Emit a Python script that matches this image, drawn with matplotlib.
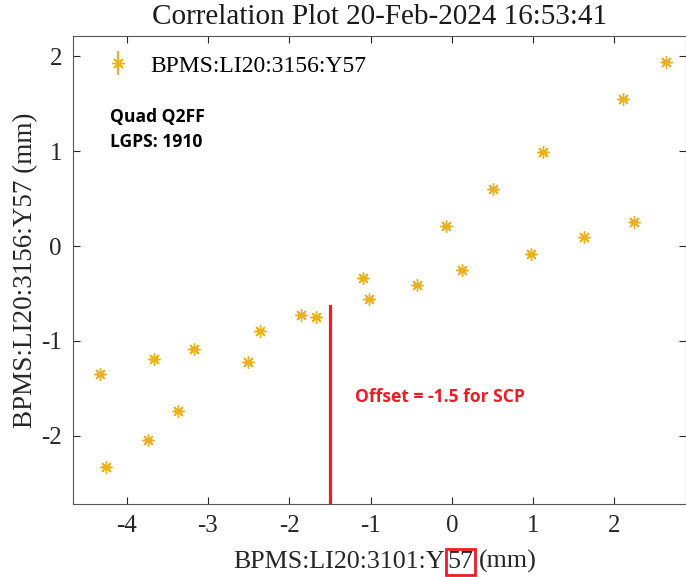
import numpy as np
import matplotlib.pyplot as plt

# BPM readings (mm)
x_bpm = [-4.33, -4.25, -3.66, -3.74, -3.37, -3.17, -2.51, -2.36, -1.85, -1.67,
         -1.09, -1.02, -0.43, -0.07, 0.13, 0.51, 0.97, 1.12, 1.63, 2.11, 2.24, 2.64]
y_bpm = [-1.35, -2.33, -1.19, -2.04, -1.74, -1.08, -1.22, -0.89, -0.73, -0.75,
         -0.34, -0.56, -0.41, 0.21, -0.25, 0.60, -0.08, 0.99, 0.09, 1.55, 0.25, 1.94]
y_err = [0.01] * len(x_bpm)
offset_x = -1.5
offset_top = -0.63

plt.rcParams['axes.unicode_minus'] = False
serif = ['Liberation Serif', 'DejaVu Serif']
sans = ['Open Sans', 'DejaVu Sans']
orange = '#EDB120'
red = '#EE1C25'
star = (8, 2, 0)

fig = plt.figure(figsize=(6.86, 5.77), dpi=100)
ax = fig.add_axes([0.1064, 0.1265, 0.8936, 0.811])

ax.errorbar(x_bpm, y_bpm, yerr=y_err, fmt='none', ecolor=orange, elinewidth=1, capsize=3)
ax.plot(x_bpm, y_bpm, linestyle='none', marker=star, markersize=9,
        markeredgewidth=1.0, color=orange)
# legend proxy: errorbar with asterisk
h = ax.errorbar([], [], yerr=[], fmt='none', ecolor=orange, capsize=4)
hm, = ax.plot([], [], linestyle='none', marker=star, markersize=9,
              markeredgewidth=1.0, color=orange)
ax.legend([(h, hm)], ['BPMS:LI20:3156:Y57'], loc='upper left', frameon=False,
          prop={'family': serif, 'size': 17}, handlelength=1.5, handletextpad=0.6,
          bbox_to_anchor=(0.01, 1.005))

ax.plot([offset_x, offset_x], [-2.716, offset_top], color=red, linewidth=2.3)

ax.set_xlim(-4.66, 2.88)
ax.set_ylim(-2.716, 2.21)
ax.set_xticks([-4, -3, -2, -1, 0, 1, 2])
ax.set_yticks([-2, -1, 0, 1, 2])
ax.tick_params(direction='in', top=True, right=True, length=5, colors='#262626',
               labelsize=18, pad=8)
for lab in ax.get_xticklabels() + ax.get_yticklabels():
    lab.set_family(serif)
for sp in ax.spines.values():
    sp.set_color('#555555')

fig.text(0.5532, 1 - 17 / 577, 'Correlation Plot 20-Feb-2024 16:53:41', family=serif,
         fontsize=21, color='#1a1a1a', ha='center', va='center')
ax.set_ylabel('BPMS:LI20:3156:Y57 (mm)', family=serif, fontsize=19.5, color='#262626')
ax.yaxis.set_label_coords(-0.057, 0.5)

# x label in three parts so "57" can carry the red box
t1 = fig.text(445 / 686, 1 - 562 / 577, 'BPMS:LI20:3101:Y', ha='right', va='center',
              family=serif, fontsize=18.7, color='#262626')
t2 = ax.annotate('57', xy=(1, 0), xycoords=t1, xytext=(1.5, 0), textcoords='offset points',
                 ha='left', va='bottom', family=serif, fontsize=18.7, color='#262626',
                 bbox=dict(boxstyle='square,pad=0.06', fc='none', ec=red, lw=2))
ax.annotate('(mm)', xy=(1, 0), xycoords=t2, xytext=(4, 0), textcoords='offset points',
            ha='left', va='bottom', family=serif, fontsize=18.7, color='#262626')

ax.text(0.060, 0.827, 'Quad Q2FF', transform=ax.transAxes, ha='left', va='center',
        family=sans, fontweight='bold', fontsize=12.6)
ax.text(0.060, 0.7735, 'LGPS: 1910', transform=ax.transAxes, ha='left', va='center',
        family=sans, fontweight='bold', fontsize=12.6)
ax.text(-1.19, -1.59, 'Offset = -1.5 for SCP', color=red, family=sans,
        fontweight='bold', fontsize=12.6, va='center', ha='left')

fig.savefig('out.png', dpi=100)
